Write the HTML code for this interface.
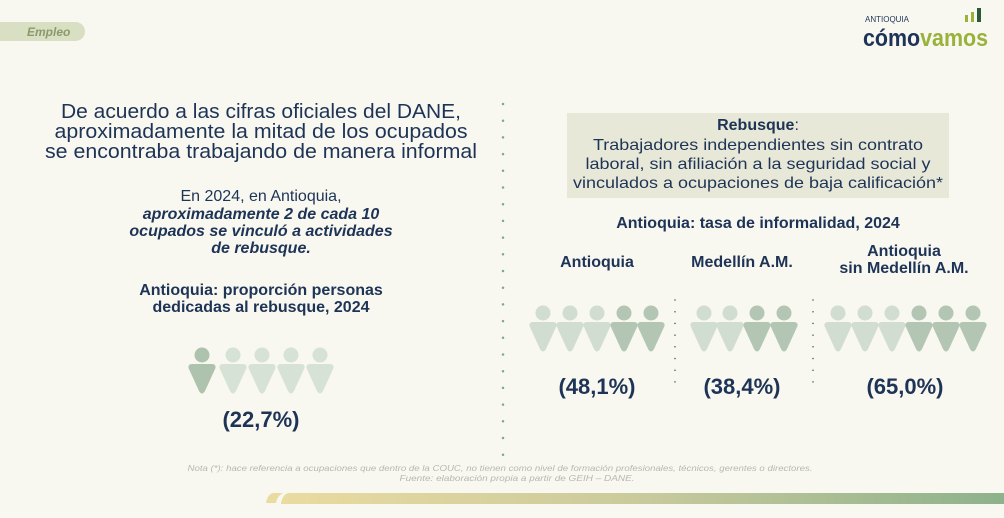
<!DOCTYPE html>
<html><head><meta charset="utf-8"><style>
html,body{margin:0;padding:0;background:#f8f7f0;}
svg{display:block;font-family:"Liberation Sans",sans-serif;}
</style></head><body>
<svg width="1004" height="518" viewBox="0 0 1004 518">
<defs>
<linearGradient id="g" x1="0" x2="1"><stop offset="0" stop-color="#eadba0"/><stop offset="0.5" stop-color="#c9ca9c"/><stop offset="1" stop-color="#8db28c"/></linearGradient>
<g id="p"><circle cx="0" cy="0" r="7.5"/><path d="M-10,9 L10,9 Q14,9 13.5,13 L3,36 Q0,41 -3,36 L-13.5,13 Q-14,9 -10,9 Z"/></g>
</defs>
<rect width="1004" height="518" fill="#f8f7f0"/>
<rect x="-20" y="22" width="105" height="19" rx="9.5" fill="#d8dfc2"/>
<text x="27" y="36" font-size="12" font-style="italic" font-weight="bold" fill="#8a9a6a">Empleo</text>
<text x="865" y="22" font-size="8" fill="#1e3456">ANTIOQUIA</text>
<rect x="965" y="15" width="3" height="7" fill="#98b23a"/><rect x="971" y="12" width="3" height="10" fill="#98b23a"/><rect x="977" y="8" width="4" height="14" fill="#2b5a3a"/>
<text x="863" y="46" font-size="24" font-weight="bold" fill="#1e3456" textLength="125" lengthAdjust="spacingAndGlyphs">cómo<tspan fill="#98b23a">vamos</tspan></text>
<line x1="503" y1="104" x2="503" y2="455" stroke="#7fa98a" stroke-width="2.5" stroke-linecap="round" stroke-dasharray="0 16.7"/>
<g fill="#1e3456" text-anchor="middle">
<text x="261" y="118" font-size="20" textLength="400" lengthAdjust="spacingAndGlyphs">De acuerdo a las cifras oficiales del DANE,</text>
<text x="261" y="138" font-size="20" textLength="413" lengthAdjust="spacingAndGlyphs">aproximadamente la mitad de los ocupados</text>
<text x="261" y="158" font-size="20" textLength="432" lengthAdjust="spacingAndGlyphs">se encontraba trabajando de manera informal</text>
<text x="261" y="201" font-size="16">En 2024, en Antioquia,</text>
<text x="261" y="219" font-size="16" font-weight="bold" font-style="italic">aproximadamente 2 de cada 10</text>
<text x="261" y="236" font-size="16" font-weight="bold" font-style="italic">ocupados se vinculó a actividades</text>
<text x="261" y="253" font-size="16" font-weight="bold" font-style="italic">de rebusque.</text>
<text x="261" y="295" font-size="16" font-weight="bold">Antioquia: proporción personas</text>
<text x="261" y="312" font-size="16" font-weight="bold">dedicadas al rebusque, 2024</text>
<text x="261" y="427" font-size="22" font-weight="bold">(22,7%)</text>
</g>
<use href="#p" x="202" y="355" fill="#aec3ad"/>
<use href="#p" x="233" y="355" fill="#d6e2d6"/>
<use href="#p" x="262" y="355" fill="#d6e2d6"/>
<use href="#p" x="291" y="355" fill="#d6e2d6"/>
<use href="#p" x="320" y="355" fill="#d6e2d6"/>
<rect x="567" y="113" width="382" height="85" fill="#e8e8d8"/>
<g fill="#1e3456" text-anchor="middle">
<text x="758" y="130" font-size="16"><tspan font-weight="bold">Rebusque</tspan>:</text>
<text x="758" y="150" font-size="16" textLength="330" lengthAdjust="spacingAndGlyphs">Trabajadores independientes sin contrato</text>
<text x="758" y="169" font-size="16" textLength="345" lengthAdjust="spacingAndGlyphs">laboral, sin afiliación a la seguridad social y</text>
<text x="758" y="188" font-size="16" textLength="370" lengthAdjust="spacingAndGlyphs">vinculados a ocupaciones de baja calificación*</text>
<text x="758" y="228" font-size="16" font-weight="bold">Antioquia: tasa de informalidad, 2024</text>
<text x="597" y="267" font-size="16" font-weight="bold">Antioquia</text>
<text x="742" y="267" font-size="16" font-weight="bold">Medellín A.M.</text>
<text x="904" y="256" font-size="16" font-weight="bold">Antioquia</text>
<text x="904" y="273" font-size="16" font-weight="bold">sin Medellín A.M.</text>
<text x="597" y="394" font-size="22" font-weight="bold">(48,1%)</text>
<text x="742" y="394" font-size="22" font-weight="bold">(38,4%)</text>
<text x="905" y="394" font-size="22" font-weight="bold">(65,0%)</text>
</g>
<line x1="675" y1="300" x2="675" y2="382" stroke="#2b5a5a" stroke-width="1.5" stroke-linecap="round" stroke-dasharray="0 11.7"/>
<line x1="813" y1="300" x2="813" y2="382" stroke="#2b5a5a" stroke-width="1.5" stroke-linecap="round" stroke-dasharray="0 11.7"/>
<g>
<use href="#p" x="543" y="313" fill="#d0ddd0"/>
<use href="#p" x="570" y="313" fill="#d0ddd0"/>
<use href="#p" x="597" y="313" fill="#d0ddd0"/>
<use href="#p" x="624" y="313" fill="#b3c6b3"/>
<use href="#p" x="651" y="313" fill="#b3c6b3"/>
<use href="#p" x="704" y="313" fill="#d0ddd0"/>
<use href="#p" x="730" y="313" fill="#d0ddd0"/>
<use href="#p" x="757" y="313" fill="#b3c6b3"/>
<use href="#p" x="784" y="313" fill="#b3c6b3"/>
<use href="#p" x="838" y="313" fill="#d0ddd0"/>
<use href="#p" x="865" y="313" fill="#d0ddd0"/>
<use href="#p" x="892" y="313" fill="#d0ddd0"/>
<use href="#p" x="919" y="313" fill="#b3c6b3"/>
<use href="#p" x="946" y="313" fill="#b3c6b3"/>
<use href="#p" x="973" y="313" fill="#b3c6b3"/>
</g>
<g fill="#b8b8b0" font-size="8.5" font-style="italic" text-anchor="middle">
<text x="500" y="471" textLength="625" lengthAdjust="spacingAndGlyphs">Nota (*): hace referencia a ocupaciones que dentro de la COUC, no tienen como nivel de formación profesionales, técnicos, gerentes o directores.</text>
<text x="517" y="481" textLength="235" lengthAdjust="spacingAndGlyphs">Fuente: elaboración propia a partir de GEIH – DANE.</text>
</g>
<path d="M266,503 Q268,493 274,493 L283,493 Q277,496 276,503 Z" fill="#eadba0"/>
<path d="M281,503 Q283,493 290,493 L1004,493 L1004,504 L281,504 Z" fill="url(#g)"/>
</svg>
</body></html>
